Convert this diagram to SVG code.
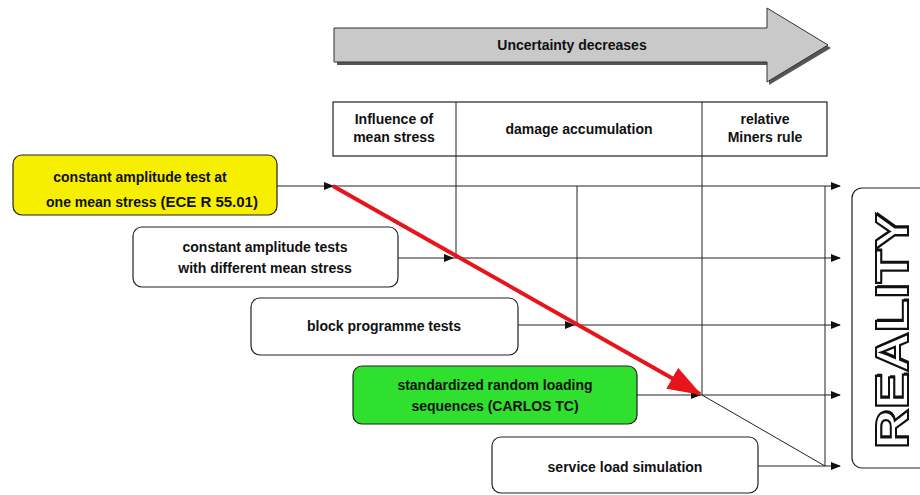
<svg xmlns="http://www.w3.org/2000/svg" width="920" height="495" viewBox="0 0 920 495">
<defs>
<style>
.t{font-family:"Liberation Sans",Arial,sans-serif;font-weight:bold;font-size:14px;fill:#111;text-anchor:middle}
.box{stroke:#222;stroke-width:1.2}
.ln{stroke:#222;stroke-width:1;fill:none}
.big{font-family:"Liberation Sans",Arial,sans-serif;font-weight:bold;font-size:47px;text-anchor:middle}
</style>
<marker id="ah" markerWidth="10" markerHeight="8" refX="9" refY="4" orient="auto" markerUnits="userSpaceOnUse"><path d="M0,0 L10,4 L0,8 Z" fill="#111"/></marker>
<marker id="rah" markerWidth="34" markerHeight="24" refX="32" refY="12" orient="auto" markerUnits="userSpaceOnUse"><path d="M0,0 L34,12 L0,24 Z" fill="#e8141b"/></marker>
</defs>
<rect width="920" height="495" fill="#fff"/>
<g id="uncertainty">
<path d="M337,31 L769,31 L769,11 L831,48 L769,85 L769,65 L337,65 Z" fill="#555"/>
<path d="M334,28 L767,28 L767,8 L828,45 L767,82 L767,62 L334,62 Z" fill="#c9c9c9" stroke="#333" stroke-width="1"/>
<text class="t" x="572" y="50" font-size="15">Uncertainty decreases</text>
</g>
<g id="header">
<rect x="333" y="102" width="494" height="54" fill="#fff" class="box"/>
<line x1="456" y1="102" x2="456" y2="156" class="ln"/>
<line x1="702" y1="102" x2="702" y2="156" class="ln"/>
<text class="t" x="394" y="124">Influence of</text>
<text class="t" x="394" y="142">mean stress</text>
<text class="t" x="579" y="134">damage accumulation</text>
<text class="t" x="765" y="124">relative</text>
<text class="t" x="765" y="142">Miners rule</text>
</g>
<g id="connectors">
<line x1="456" y1="156" x2="456" y2="258" class="ln"/>
<line x1="577" y1="186" x2="577" y2="325" class="ln"/>
<line x1="702" y1="156" x2="702" y2="395" class="ln"/>
<line x1="825" y1="186" x2="825" y2="466" class="ln"/>
<line x1="702" y1="395" x2="825" y2="466" class="ln"/>
<line x1="277" y1="186" x2="333" y2="186" class="ln" marker-end="url(#ah)"/>
<line x1="333" y1="186" x2="840" y2="186" class="ln" marker-end="url(#ah)"/>
<line x1="398" y1="258" x2="453" y2="258" class="ln" marker-end="url(#ah)"/>
<line x1="453" y1="258" x2="840" y2="258" class="ln" marker-end="url(#ah)"/>
<line x1="518" y1="325" x2="574" y2="325" class="ln" marker-end="url(#ah)"/>
<line x1="574" y1="325" x2="840" y2="325" class="ln" marker-end="url(#ah)"/>
<line x1="637" y1="395" x2="700" y2="395" class="ln" marker-end="url(#ah)"/>
<line x1="700" y1="395" x2="840" y2="395" class="ln" marker-end="url(#ah)"/>
<line x1="758" y1="466" x2="840" y2="466" class="ln" marker-end="url(#ah)"/>
<line x1="333" y1="186" x2="700" y2="394" stroke="#e8141b" stroke-width="4" marker-end="url(#rah)"/>
</g>
<g id="n1">
<rect x="13" y="155" width="264" height="60" rx="9" fill="#f7ef00" class="box"/>
<text class="t" x="140" y="182">constant amplitude test at</text>
<text class="t" x="152" y="207">one mean stress <tspan font-size="15">(ECE R 55.01)</tspan></text>
</g>
<g id="n2">
<rect x="133" y="227" width="265" height="60" rx="9" fill="#fff" class="box"/>
<text class="t" x="265" y="252">constant amplitude tests</text>
<text class="t" x="265" y="273">with different mean stress</text>
</g>
<g id="n3">
<rect x="251" y="298" width="267" height="57" rx="9" fill="#fff" class="box"/>
<text class="t" x="384" y="331">block programme tests</text>
</g>
<g id="n4">
<rect x="353" y="366" width="284" height="58" rx="9" fill="#2fe02f" class="box"/>
<text class="t" x="495" y="390">standardized random loading</text>
<text class="t" x="495" y="411">sequences (CARLOS TC)</text>
</g>
<g id="n5">
<rect x="492" y="437" width="266" height="56" rx="9" fill="#fff" class="box"/>
<text class="t" x="625" y="472">service load simulation</text>
</g>
<g id="reality">
<rect x="852" y="188" width="80" height="280" rx="10" fill="#fff" class="box"/>
<text class="big" transform="translate(908,331) rotate(-90)" x="2" y="1" fill="#111" textLength="236" lengthAdjust="spacingAndGlyphs">REALITY</text>
<text class="big" transform="translate(908,331) rotate(-90)" x="0" y="0" fill="#fff" stroke="#111" stroke-width="2" textLength="236" lengthAdjust="spacingAndGlyphs">REALITY</text>
</g>
</svg>
